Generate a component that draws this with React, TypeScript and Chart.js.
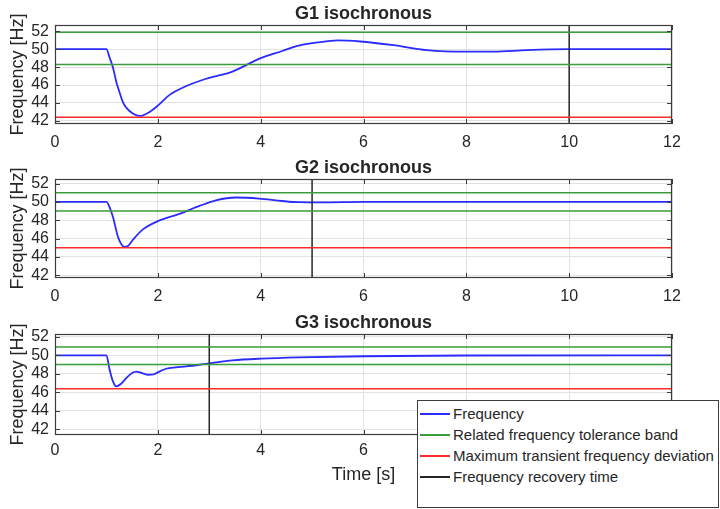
import React, { useEffect, useRef } from "react";
import { Chart, registerables } from "chart.js";

Chart.register(...registerables);

// ---------- data ----------
const xTicks = [0, 2, 4, 6, 8, 10, 12];
const yTicks = [42, 44, 46, 48, 50, 52];
const xRange = [0, 12];

const titles = ["G1 isochronous", "G2 isochronous", "G3 isochronous"];

const g1Time = [0, 1, 1.06, 1.13, 1.19, 1.26, 1.32, 1.39, 1.52, 1.65, 1.84, 2.0, 2.23, 2.48, 2.94, 3.45, 3.71, 4.0, 4.42, 4.74, 5.1, 5.5, 5.94, 6.58, 7.23, 8.0, 8.53, 9.18, 10, 12];
const g1Freq = [50, 50, 49.1, 47.9, 46.4, 45.1, 44.1, 43.45, 42.8, 42.55, 43.0, 43.7, 44.9, 45.7, 46.7, 47.5, 48.2, 49.0, 49.8, 50.4, 50.75, 50.98, 50.86, 50.45, 49.9, 49.73, 49.73, 49.9, 50.0, 50.0];
const g1Band = [48.3, 51.9];
const g1MaxDev = 42.4;
const g1Recovery = 10;
const g1YRange = [41.65, 52.7];

const g2Time = [0, 1, 1.07, 1.13, 1.23, 1.35, 1.42, 1.52, 1.71, 2.0, 2.42, 2.81, 3.13, 3.52, 3.97, 4.42, 4.74, 5.2, 6, 12];
const g2Freq = [50, 50, 49.3, 48.3, 46.1, 45.1, 45.2, 45.9, 47.0, 47.9, 48.7, 49.56, 50.18, 50.48, 50.37, 50.1, 49.97, 49.95, 50, 50];
const g2Band = [49.0, 51.0];
const g2MaxDev = 45.0;
const g2Recovery = 5;
const g2YRange = [41.7, 52.5];

const g3Time = [0, 1, 1.06, 1.12, 1.19, 1.28, 1.39, 1.5, 1.58, 1.68, 1.8, 1.92, 2.05, 2.16, 2.35, 2.55, 3.0, 3.45, 4.0, 4.74, 6.0, 8.0, 12];
const g3Freq = [50, 50, 48.5, 47.3, 46.65, 46.9, 47.57, 48.1, 48.25, 48.1, 47.9, 47.95, 48.3, 48.55, 48.7, 48.8, 49.13, 49.45, 49.64, 49.78, 49.9, 49.98, 50];
const g3Band = [49.0, 50.9];
const g3MaxDev = 46.4;
const g3Recovery = 3;
const g3YRange = [41.4, 52.3];

const legendLabels = [
  "Frequency",
  "Related frequency tolerance band",
  "Maximum transient frequency deviation",
  "Frequency recovery time",
];
const seriesColors = ["#2b2bff", "#3a9d3a", "#ff2b2b", "#262626"];

// ---------- styles ----------
const FONT = '"Liberation Sans", Arial, Helvetica, sans-serif';
const TEXT = "#262626";
const AXIS = "#3c3c3c";
const GRID = "#e2e2e2";

const boxPlugin = {
  id: "matlabBox",
  afterDatasetsDraw(chart: any) {
    const { ctx, chartArea: a, scales } = chart;
    const xs = scales.x;
    const ys = scales.y;
    const tl = 5;
    ctx.save();
    ctx.strokeStyle = AXIS;
    ctx.lineWidth = 1;
    ctx.beginPath();
    xTicks.forEach((v) => {
      const px = Math.round(xs.getPixelForValue(v)) + 0.5;
      ctx.moveTo(px, a.bottom);
      ctx.lineTo(px, a.bottom - tl);
      ctx.moveTo(px, a.top);
      ctx.lineTo(px, a.top + tl);
    });
    yTicks.forEach((v) => {
      const py = Math.round(ys.getPixelForValue(v)) + 0.5;
      ctx.moveTo(a.left, py);
      ctx.lineTo(a.left + tl, py);
      ctx.moveTo(a.right, py);
      ctx.lineTo(a.right - tl, py);
    });
    ctx.stroke();
    ctx.lineWidth = 1.2;
    ctx.strokeRect(
      Math.round(a.left) + 0.5,
      Math.round(a.top) + 0.5,
      Math.round(a.right - a.left) - 1,
      Math.round(a.bottom - a.top) - 1
    );
    ctx.restore();
  },
};

type PanelProps = {
  top: number;
  height: number;
  title: string;
  time: number[];
  freq: number[];
  band: number[];
  maxDev: number;
  recovery: number;
  yRange: number[];
  xAxisHeight: number;
  tickPad: number;
  showXTitle: boolean;
};

function Panel(p: PanelProps) {
  const ref = useRef<HTMLCanvasElement | null>(null);

  useEffect(() => {
    if (!ref.current) return;
    const hline = (y: number) => [
      { x: xRange[0], y },
      { x: xRange[1], y },
    ];
    const chart = new Chart(ref.current, {
      type: "line",
      data: {
        datasets: [
          {
            label: legendLabels[1],
            data: hline(p.band[1]),
            borderColor: seriesColors[1],
            borderWidth: 1.5,
            pointRadius: 0,
          },
          {
            label: legendLabels[1] + " (lower)",
            data: hline(p.band[0]),
            borderColor: seriesColors[1],
            borderWidth: 1.5,
            pointRadius: 0,
          },
          {
            label: legendLabels[2],
            data: hline(p.maxDev),
            borderColor: seriesColors[2],
            borderWidth: 1.5,
            pointRadius: 0,
          },
          {
            label: legendLabels[3],
            data: [
              { x: p.recovery, y: p.yRange[0] },
              { x: p.recovery, y: p.yRange[1] },
            ],
            borderColor: seriesColors[3],
            borderWidth: 1.5,
            pointRadius: 0,
          },
          {
            label: legendLabels[0],
            data: p.time.map((t, i) => ({ x: t, y: p.freq[i] })),
            borderColor: seriesColors[0],
            borderWidth: 1.8,
            pointRadius: 0,
            cubicInterpolationMode: "monotone",
          },
        ],
      },
      options: {
        animation: false,
        responsive: true,
        maintainAspectRatio: false,
        layout: { padding: { left: 0, right: 48, top: 0, bottom: 0 } },
        plugins: {
          legend: { display: false },
          tooltip: { enabled: false },
          title: {
            display: true,
            text: p.title,
            fullSize: false,
            color: TEXT,
            font: { family: FONT, size: 18, weight: "bold" },
            padding: { top: 3, bottom: 0.4 },
          },
        },
        scales: {
          x: {
            type: "linear",
            min: xRange[0],
            max: xRange[1],
            afterBuildTicks: (s: any) => {
              s.ticks = xTicks.map((v) => ({ value: v }));
            },
            afterFit: (s: any) => {
              s.height = p.xAxisHeight;
            },
            grid: { color: GRID, drawTicks: false, lineWidth: 1 },
            border: { display: false },
            ticks: {
              color: TEXT,
              font: { family: FONT, size: 16 },
              padding: p.tickPad,
              maxRotation: 0,
              autoSkip: false,
            },
            title: {
              display: p.showXTitle,
              text: "Time [s]",
              color: TEXT,
              font: { family: FONT, size: 18 },
              padding: { top: 0, bottom: 23 },
            },
          },
          y: {
            type: "linear",
            min: p.yRange[0],
            max: p.yRange[1],
            afterBuildTicks: (s: any) => {
              s.ticks = yTicks.map((v) => ({ value: v }));
            },
            afterFit: (s: any) => {
              s.width = 55;
            },
            grid: { color: GRID, drawTicks: false, lineWidth: 1 },
            border: { display: false },
            ticks: {
              color: TEXT,
              font: { family: FONT, size: 16 },
              padding: 6,
              autoSkip: false,
            },
            title: {
              display: true,
              text: "Frequency [Hz]",
              color: TEXT,
              font: { family: FONT, size: 18 },
              padding: { top: 7, bottom: 0 },
            },
          },
        },
      },
      plugins: [boxPlugin],
    } as any);
    return () => chart.destroy();
  }, []);

  return (
    <div style={{ position: "absolute", left: 0, top: p.top, width: 720, height: p.height }}>
      <canvas ref={ref} />
    </div>
  );
}

function Legend() {
  return (
    <div
      style={{
        position: "absolute",
        left: 417,
        top: 400,
        width: 302,
        height: 108,
        boxSizing: "border-box",
        border: `1px solid ${AXIS}`,
        background: "#fff",
        paddingTop: 2,
        fontFamily: FONT,
        fontSize: 15,
        color: TEXT,
      }}
    >
      {legendLabels.map((label, i) => (
        <div key={label} style={{ display: "flex", alignItems: "center", height: 21, whiteSpace: "nowrap" }}>
          <span
            style={{
              display: "inline-block",
              width: 30,
              height: 0,
              borderTop: `2px solid ${seriesColors[i]}`,
              marginLeft: 2,
              marginRight: 3,
            }}
          />
          {label}
        </div>
      ))}
    </div>
  );
}

export default function App() {
  return (
    <div
      style={{
        position: "fixed",
        left: 0,
        top: 0,
        width: 720,
        height: 509,
        background: "#fff",
        overflow: "hidden",
      }}
    >
      <Panel top={0} height={154} title={titles[0]} time={g1Time} freq={g1Freq} band={g1Band} maxDev={g1MaxDev} recovery={g1Recovery} yRange={g1YRange} xAxisHeight={30} tickPad={9} showXTitle={false} />
      <Panel top={154} height={154} title={titles[1]} time={g2Time} freq={g2Freq} band={g2Band} maxDev={g2MaxDev} recovery={g2Recovery} yRange={g2YRange} xAxisHeight={30} tickPad={8.5} showXTitle={false} />
      <Panel top={309} height={200} title={titles[2]} time={g3Time} freq={g3Freq} band={g3Band} maxDev={g3MaxDev} recovery={g3Recovery} yRange={g3YRange} xAxisHeight={74} tickPad={6} showXTitle={true} />
      <Legend />
    </div>
  );
}
